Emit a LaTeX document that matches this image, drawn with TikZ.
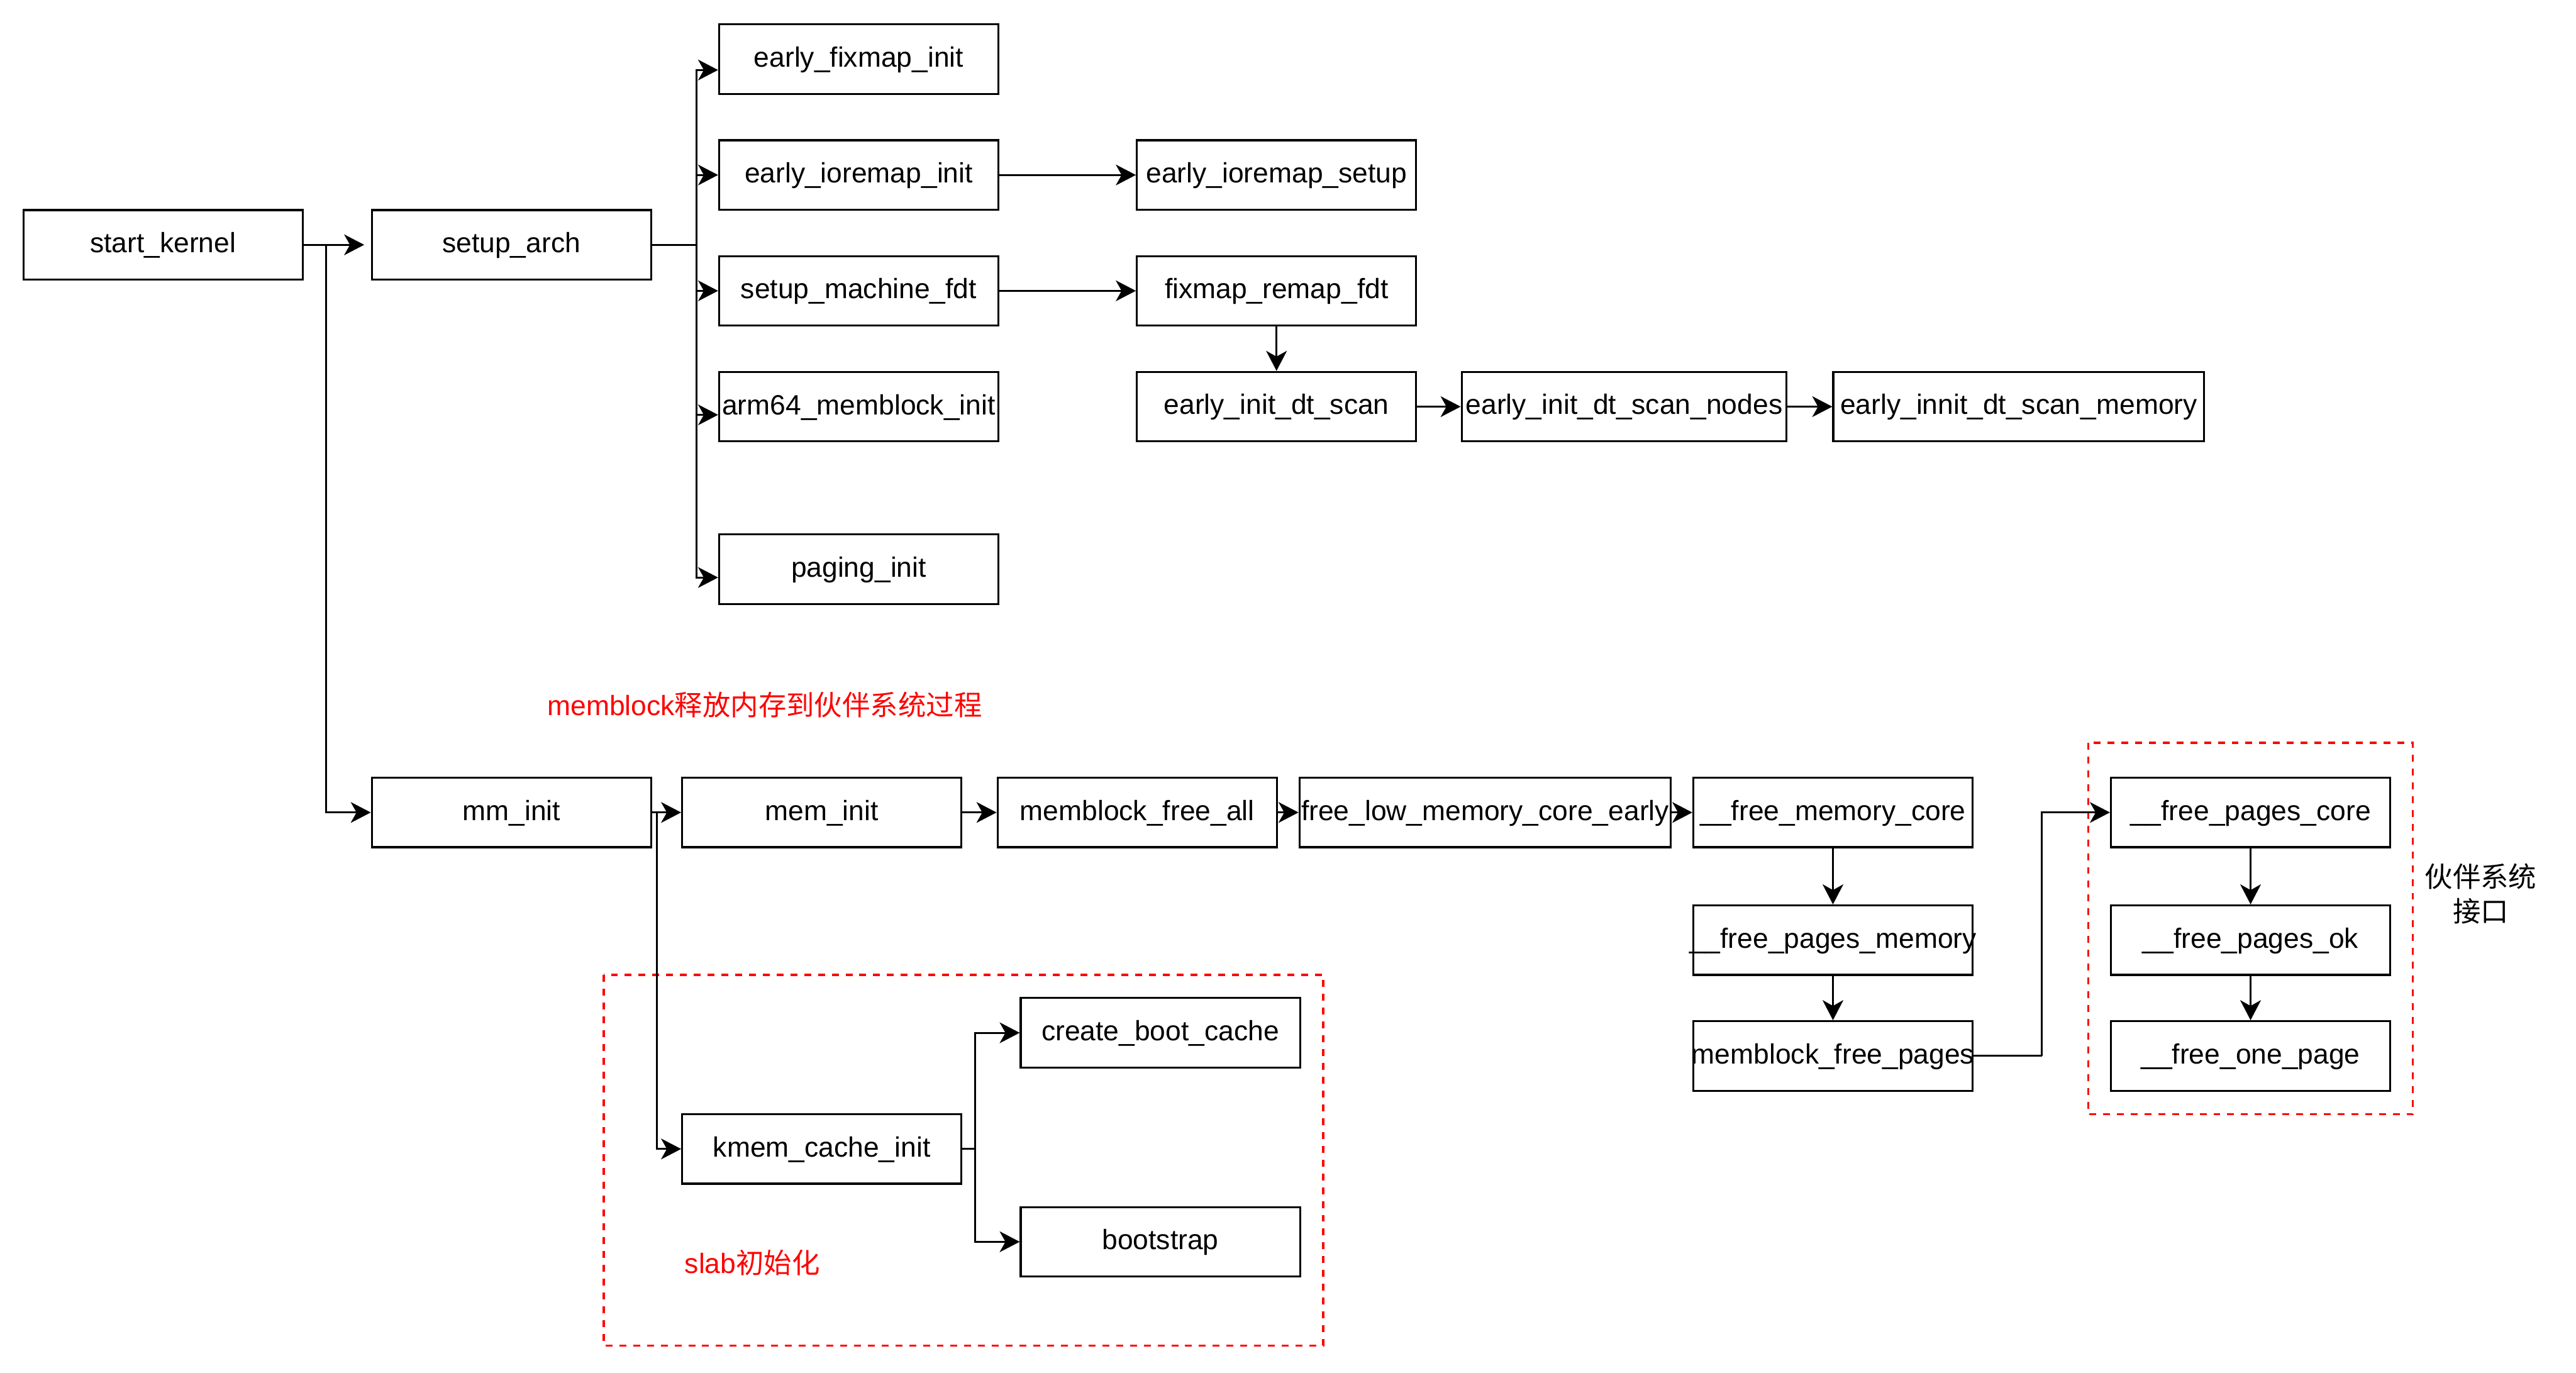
\documentclass[tikz,border=0pt]{standalone}
\usepackage{fontspec}
\setmainfont{Liberation Sans}
\newfontfamily\cjk{Noto Sans CJK SC}
\usetikzlibrary{arrows.meta,calc}
\newcommand\boxtxt[1]{\makebox[0pt]{\vrule width 0pt height 13pt depth 3.2pt#1}}
\begin{document}
\begin{tikzpicture}[x=1pt,y=-1pt,
  fbox/.style={draw, line width=1.2pt, minimum width=170pt, minimum height=42.3pt, inner sep=0pt,
    font=\fontsize{17}{20}\selectfont, anchor=center},
  arr/.style={line width=1.2pt, -{Stealth[length=12.2pt,width=12.6pt,inset=3.5pt]}},
  ln/.style={line width=1.2pt},
  redbox/.style={draw=red, line width=1.3pt, dash pattern=on 4.2pt off 4.2pt},
  lbl/.style={font=\fontsize{17}{21.2}\selectfont, inner sep=0pt}
]
\useasboundingbox (0,0) rectangle (1568,835.5);

% top part
\node[fbox] (sk) at (99.2,149) {\boxtxt{start\_kernel}};
\node[fbox] (sa) at (311.3,149) {\boxtxt{setup\_arch}};
\node[fbox] (efi) at (522.7,36) {\boxtxt{early\_fixmap\_init}};
\node[fbox] (eii) at (522.7,106.5) {\boxtxt{early\_ioremap\_init}};
\node[fbox] (eis) at (777,106.5) {\boxtxt{early\_ioremap\_setup}};
\node[fbox] (smf) at (522.7,177) {\boxtxt{setup\_machine\_fdt}};
\node[fbox] (frf) at (777,177) {\boxtxt{fixmap\_remap\_fdt}};
\node[fbox] (ami) at (522.7,247.5) {\boxtxt{arm64\_memblock\_init}};
\node[fbox] (eids) at (777,247.5) {\boxtxt{early\_init\_dt\_scan}};
\node[fbox, minimum width=197.8pt] (eidn) at (988.6,247.5) {\boxtxt{early\_init\_dt\_scan\_nodes}};
\node[fbox, minimum width=225.8pt] (eidm) at (1228.8,247.5) {\boxtxt{early\_innit\_dt\_scan\_memory}};
\node[fbox] (pi) at (522.7,346.5) {\boxtxt{paging\_init}};

% bottom part
\node[fbox] (mm) at (311.3,494.5) {\boxtxt{mm\_init}};
\node[fbox] (mem) at (500.2,494.5) {\boxtxt{mem\_init}};
\node[fbox] (mfa) at (692.2,494.5) {\boxtxt{memblock\_free\_all}};
\node[fbox, minimum width=226pt] (flm) at (904,494.5) {\boxtxt{free\_low\_memory\_core\_early}};
\node[fbox] (fmc) at (1115.7,494.5) {\boxtxt{\_\_free\_memory\_core}};
\node[fbox] (fpm) at (1115.7,572.2) {\boxtxt{\_\_free\_pages\_memory}};
\node[fbox] (mfp) at (1115.7,642.7) {\boxtxt{memblock\_free\_pages}};
\node[fbox] (fpc) at (1369.9,494.5) {\boxtxt{\_\_free\_pages\_core}};
\node[fbox] (fpo) at (1369.9,572.2) {\boxtxt{\_\_free\_pages\_ok}};
\node[fbox] (fop) at (1369.9,642.7) {\boxtxt{\_\_free\_one\_page}};
\node[fbox] (kci) at (500.2,699.3) {\boxtxt{kmem\_cache\_init}};
\node[fbox] (cbc) at (706.3,628.6) {\boxtxt{create\_boot\_cache}};
\node[fbox] (bs) at (706.3,755.8) {\boxtxt{bootstrap}};

% dashed groups
\draw[redbox] (367.5,593.4) rectangle (805.5,819.1);
\draw[redbox] (1271,452.1) rectangle (1468.7,678.2);

% labels
\node[lbl, text=red] (t1) at (465.5,430) {\vrule width 0pt height 13pt depth 3.2pt memblock{\cjk 释放内存到伙伴系统过程}};
\node[lbl, text=red, anchor=west] (t2) at (416.6,769.4) {\vrule width 0pt height 13pt depth 3.2pt slab{\cjk 初始化}};
\node[lbl, align=center] (t3) at (1510,544) {{\cjk 伙伴系统}\\{\cjk 接口}};

% connectors
\coordinate (b1) at (198.4,149);
\coordinate (b2) at (423.8,149);
\coordinate (b3) at (399.7,494.5);
\coordinate (b4) at (593.4,699.3);
\coordinate (b5) at (1242.9,642.7);

\draw[arr, shorten >=4pt] (sk.east) -- (sa.west);
\draw[arr] (b1) |- (mm.west);
\draw[ln] (sa.east) -- (b2);
\draw[arr] (b2) |- ([yshift=-6.6pt]efi.west);
\draw[arr] (b2) |- (eii.west);
\draw[arr] (b2) |- (smf.west);
\draw[arr] (b2) |- ([yshift=-5pt]ami.west);
\draw[arr] (b2) |- ([yshift=-5pt]pi.west);
\draw[arr] (eii.east) -- (eis.west);
\draw[arr] (smf.east) -- (frf.west);
\draw[arr] (frf.south) -- (eids.north);
\draw[arr] (eids.east) -- (eidn.west);
\draw[arr] (eidn.east) -- (eidm.west);

\draw[arr] (mm.east) -- (mem.west);
\draw[arr] (b3) |- (kci.west);
\draw[arr] (mem.east) -- (mfa.west);
\draw[arr] (mfa.east) -- (flm.west);
\draw[arr] (flm.east) -- (fmc.west);
\draw[arr] (fmc.south) -- (fpm.north);
\draw[arr] (fpm.south) -- (mfp.north);
\draw[ln] (mfp.east) -- (b5);
\draw[arr] (b5) |- (fpc.west);
\draw[arr] (fpc.south) -- (fpo.north);
\draw[arr] (fpo.south) -- (fop.north);

\draw[ln] (kci.east) -- (b4);
\draw[arr] (b4) |- (cbc.west);
\draw[arr] (b4) |- (bs.west);
\end{tikzpicture}
\end{document}
